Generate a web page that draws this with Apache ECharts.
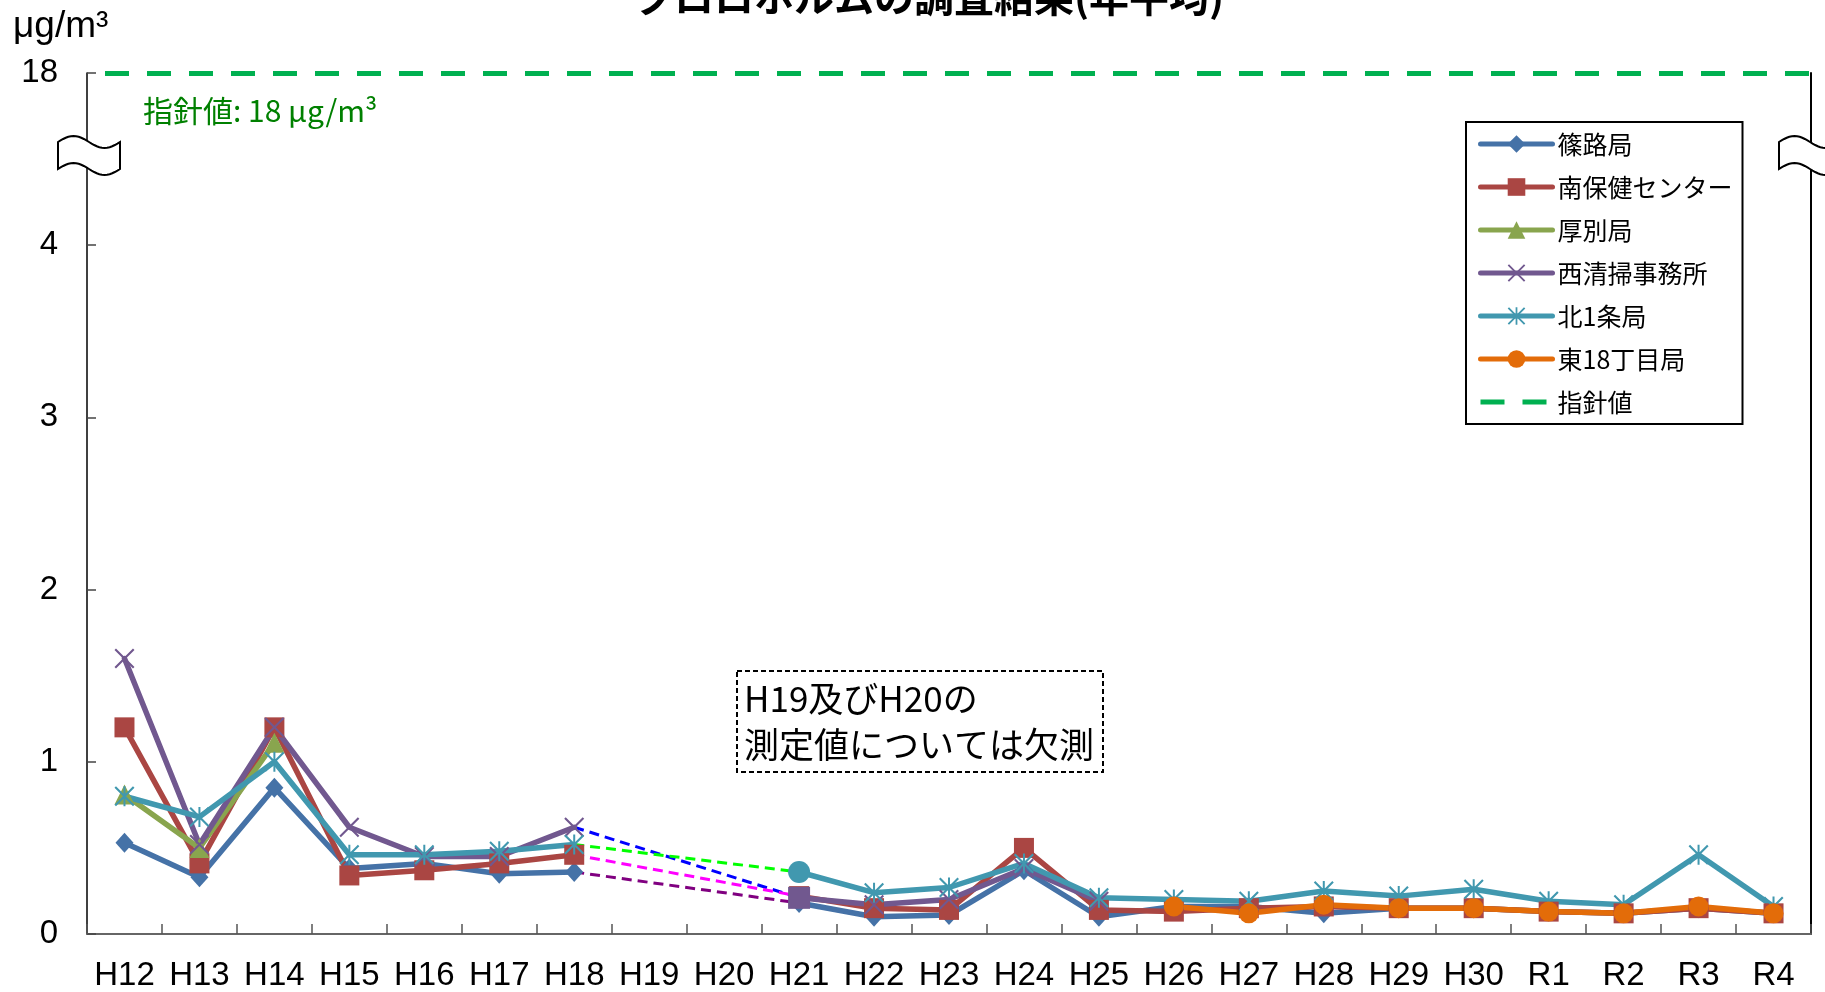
<!DOCTYPE html>
<html><head><meta charset="utf-8">
<script src="https://cdn.jsdelivr.net/npm/echarts@6/dist/echarts.min.js"></script>
<style>html,body{margin:0;padding:0;background:#fff}#c{width:1825px;height:992px}</style>
</head><body><div id="c"></div>
<script>
// ---- data ----
const categories = ['H12','H13','H14','H15','H16','H17','H18','H19','H20','H21','H22','H23','H24','H25','H26','H27','H28','H29','H30','R1','R2','R3','R4'];
const yTickValues = [0, 1, 2, 3, 4, 18];
const guideValue = 18;
const shinoro   = [0.53,0.33,0.85,0.38,0.41,0.35,0.36,null,null,0.18,0.10,0.11,0.37,0.10,0.16,0.16,0.12,0.15,0.15,0.13,0.12,0.15,0.12];
const minamiHC  = [1.20,0.41,1.20,0.34,0.37,0.41,0.46,null,null,0.22,0.15,0.14,0.50,0.14,0.13,0.15,0.16,0.15,0.15,0.13,0.12,0.15,0.12];
const atsubetsu = [0.81,0.50,1.11,null,null,null,null,null,null,null,null,null,null,null,null,null,null,null,null,null,null,null,null];
const nishiSeiso= [1.60,0.52,1.20,0.62,0.45,0.45,0.62,null,null,0.21,0.17,0.20,0.38,0.19,null,null,null,null,null,null,null,null,null];
const kita1jo   = [0.80,0.68,1.00,0.46,0.46,0.48,0.52,null,null,0.36,0.24,0.27,0.41,0.21,0.20,0.19,0.25,0.22,0.26,0.19,0.17,0.46,0.16];
const higashi18 = [null,null,null,null,null,null,null,null,null,null,null,null,null,null,0.16,0.12,0.17,0.15,0.15,0.13,0.12,0.16,0.12];

// ---- styles ----
const X_PATH = 'path://M0,1.5L1.5,0L10,8.5L18.5,0L20,1.5L11.5,10L20,18.5L18.5,20L10,11.5L1.5,20L0,18.5L8.5,10Z';
const STAR_PATH = 'path://M0,1.5L1.5,0L10,8.5L18.5,0L20,1.5L11.5,10L20,18.5L18.5,20L10,11.5L1.5,20L0,18.5L8.5,10ZM9,0L11,0L11,20L9,20Z';
const JP = '"Noto Sans CJK JP", "Noto Sans", sans-serif';
const LAT = '"Liberation Sans", Arial, sans-serif';

function mainSeries(name, data, color, symbol, size, overrides) {
  return {
    type: 'line', name: name, z: 2,
    data: data.map((v, i) => (overrides && overrides[i] && v != null) ? Object.assign({ value: v }, overrides[i]) : v),
    symbol: symbol, symbolSize: size,
    itemStyle: { color: color, borderWidth: 0 },
    lineStyle: { color: color, width: 5.5, cap: 'round', join: 'round' },
    connectNulls: false, emphasis: { disabled: true }
  };
}
function connector(src, color) {
  return {
    type: 'line', z: 1, silent: true, symbol: 'none', connectNulls: true,
    data: src.map((v, i) => (i === 6 || i === 9) ? v : null),
    lineStyle: { color: color, width: 3, type: [10, 6] },
    emphasis: { disabled: true }
  };
}
function wavePoints(x0, y0, w, h, a) {
  const pts = [];
  for (let i = 0; i <= 24; i++) { const t = i / 24; pts.push([x0 + t * w, y0 - a * Math.sin(2 * Math.PI * t)]); }
  for (let i = 24; i >= 0; i--) { const t = i / 24; pts.push([x0 + t * w, y0 + h - a * Math.sin(2 * Math.PI * t)]); }
  return pts;
}

const yBase = {
  type: 'value', min: 0, max: 18,
  breaks: [{ start: 4.5, end: 17.5, gap: 0 }],
  breakArea: { show: false },
  splitLine: { show: false }
};

const chart = echarts.init(document.getElementById('c'), null, { renderer: 'canvas' });
chart.setOption({
  animation: false,
  backgroundColor: '#fff',
  grid: { left: 87, right: 14, top: 73, bottom: 57 },
  xAxis: {
    type: 'category', data: categories, boundaryGap: true,
    axisLine: { show: true, lineStyle: { color: '#666', width: 2 } },
    axisTick: { show: true, inside: true, length: 10, interval: 0, lineStyle: { color: '#555', width: 1.5 } },
    axisLabel: { interval: 0, margin: 25, color: '#000', fontSize: 33, fontFamily: LAT },
    splitLine: { show: false }
  },
  yAxis: [
    Object.assign({}, yBase, {
      position: 'left',
      axisLine: { show: true, lineStyle: { color: '#000', width: 1.5 } },
      axisTick: { show: true, inside: true, length: 9, customValues: yTickValues, lineStyle: { color: '#444', width: 1.5 } },
      axisLabel: { show: true, customValues: yTickValues, margin: 29, color: '#000', fontSize: 33, fontFamily: LAT }
    }),
    Object.assign({}, yBase, {
      position: 'right',
      axisLine: { show: true, onZero: false, lineStyle: { color: '#000', width: 2 } },
      axisTick: { show: false },
      axisLabel: { show: false }
    })
  ],
  legend: {
    data: ['篠路局', '南保健センター', '厚別局', '西清掃事務所', '北1条局', '東18丁目局', '指針値'],
    orient: 'vertical', left: 1466, top: 122,
    padding: [9, 10, 9, 12], itemGap: 17, itemWidth: 72, itemHeight: 22,
    borderColor: '#000', borderWidth: 2, backgroundColor: '#fff',
    selectedMode: false,
    lineStyle: { width: 5 },
    textStyle: { fontSize: 25, color: '#000', fontFamily: JP, lineHeight: 26 }
  },
  series: [
    mainSeries('篠路局', shinoro, '#4572A7', 'diamond', [18, 20]),
    mainSeries('南保健センター', minamiHC, '#AA4643', 'rect', 20),
    mainSeries('厚別局', atsubetsu, '#89A54E', 'triangle', 20),
    mainSeries('西清掃事務所', nishiSeiso, '#71588F', X_PATH, 20, { 9: { symbol: 'rect', symbolSize: 22 } }),
    mainSeries('北1条局', kita1jo, '#4198AF', STAR_PATH, 20, { 9: { symbol: 'circle', symbolSize: 22 } }),
    mainSeries('東18丁目局', higashi18, '#E36C09', 'circle', 20),
    {
      type: 'line', name: '指針値', z: 3, symbol: 'none',
      data: categories.map(() => null),
      lineStyle: { color: '#00B050', width: 5, type: [24, 18] },
      itemStyle: { color: 'rgba(0,0,0,0)' },
      markLine: {
        silent: true, symbol: ['none', 'none'],
        label: { show: false },
        lineStyle: { color: '#00B050', width: 5, type: [24, 18], dashOffset: 24 },
        data: [{ yAxis: guideValue }]
      }
    },
    connector(nishiSeiso, '#0000FF'),
    connector(kita1jo, '#00FF00'),
    connector(minamiHC, '#FF00FF'),
    connector(shinoro, '#800080')
  ],
  graphic: [
    { type: 'text', z: 100, style: { text: 'クロロホルムの調査結果(年平均)', x: 929, y: 17, align: 'center', verticalAlign: 'bottom', fontSize: 40, fontWeight: 'bold', fontFamily: JP, fill: '#000' } },
    { type: 'text', z: 100, style: { text: 'μg/m³', x: 13, y: 27, align: 'left', verticalAlign: 'middle', fontSize: 37, fontFamily: LAT, fill: '#000' } },
    { type: 'text', z: 100, style: { text: '指針値: 18 μg/m³', x: 143, y: 111, align: 'left', verticalAlign: 'middle', fontSize: 30, fontFamily: JP, fill: '#008000' } },
    { type: 'rect', z: 100, shape: { x: 737, y: 671, width: 366, height: 101 }, style: { fill: 'rgba(255,255,255,0)', stroke: '#000', lineWidth: 2, lineDash: [5, 3] } },
    { type: 'text', z: 101, style: { text: 'H19及びH20の\n測定値については欠測', x: 744, y: 676, align: 'left', verticalAlign: 'top', lineHeight: 46, fontSize: 35, fontFamily: JP, fill: '#000' } },
    { type: 'polygon', z: 100, shape: { points: wavePoints(58, 142, 62, 27, 6) }, style: { fill: '#fff', stroke: '#000', lineWidth: 2 } },
    { type: 'polygon', z: 100, shape: { points: wavePoints(1779, 142, 62, 27, 6) }, style: { fill: '#fff', stroke: '#000', lineWidth: 2 } }
  ]
});
</script></body></html>
